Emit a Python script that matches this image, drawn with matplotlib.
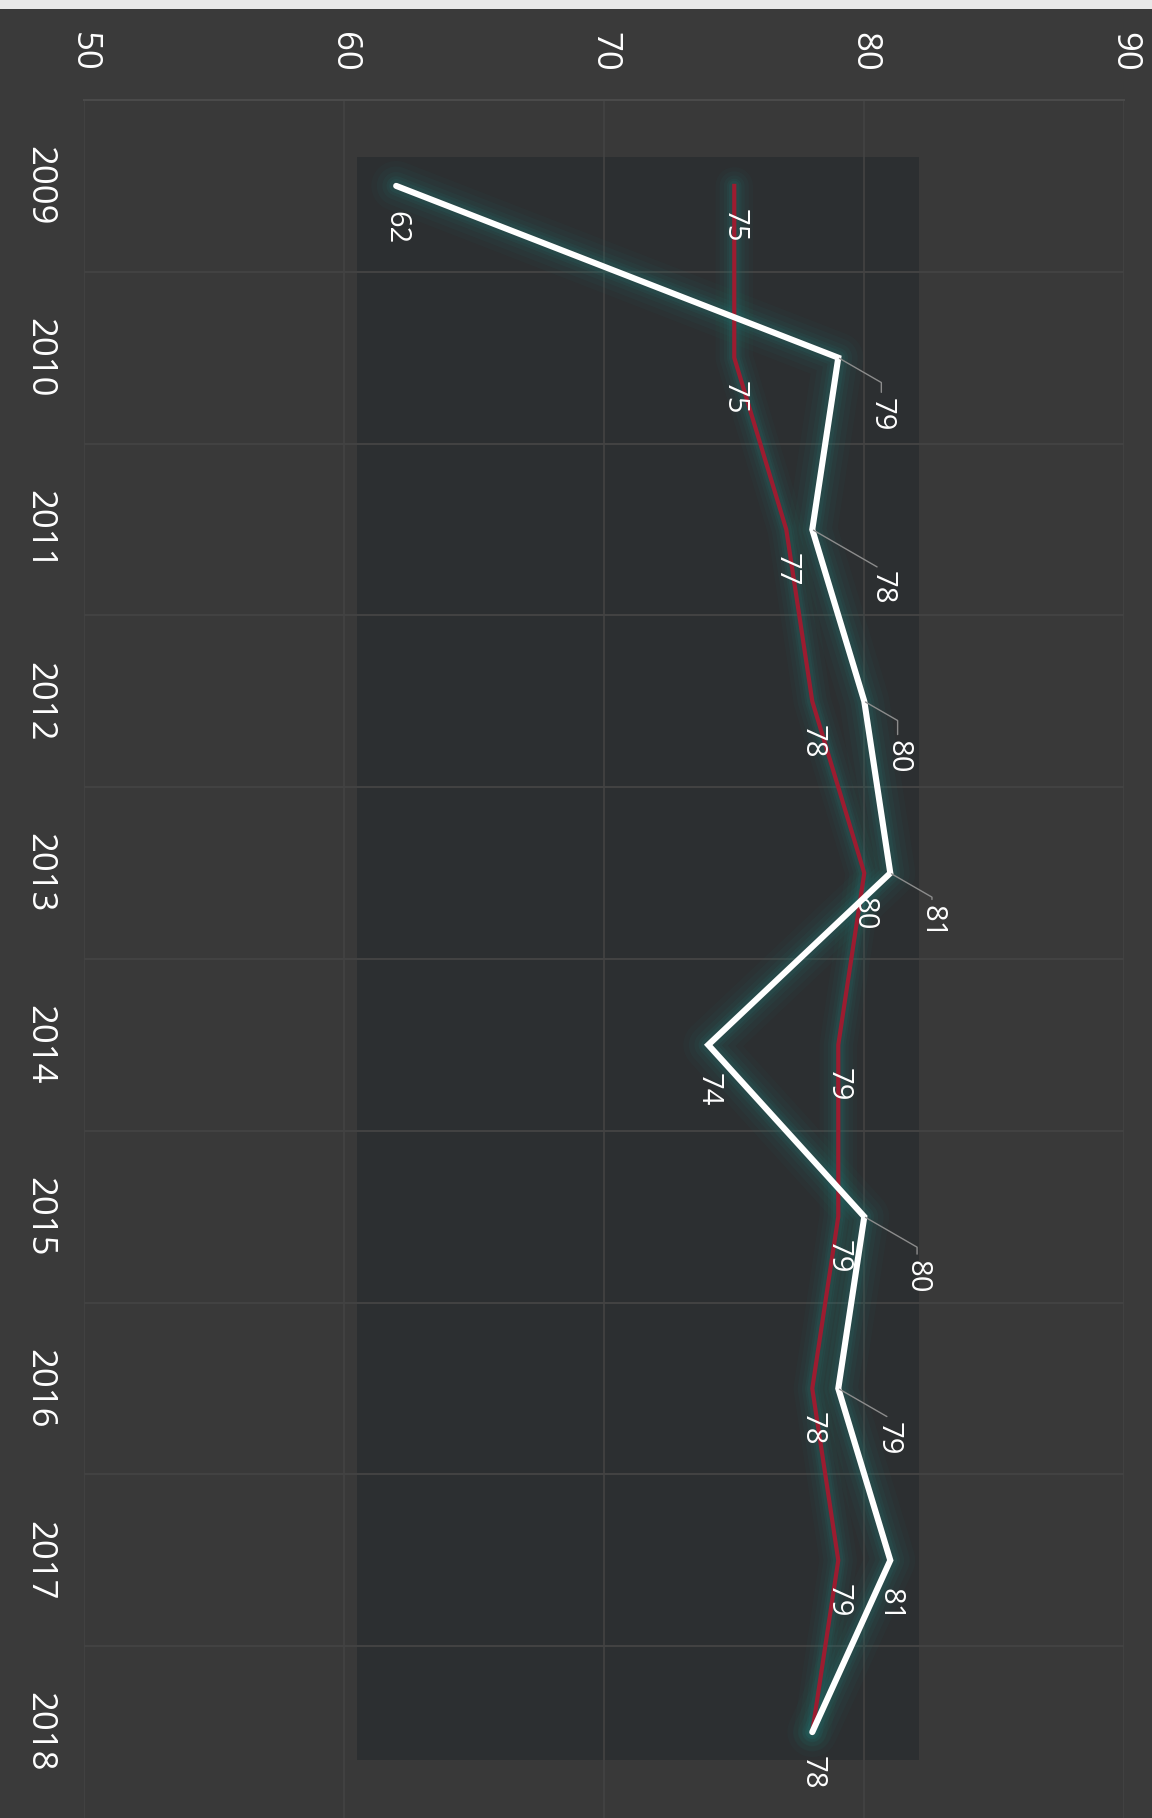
import matplotlib.pyplot as plt
from matplotlib.patches import Rectangle

years = [2009, 2010, 2011, 2012, 2013, 2014, 2015, 2016, 2017, 2018]
white_vals = [62, 79, 78, 80, 81, 74, 80, 79, 81, 78]
red_vals = [75, 75, 77, 78, 80, 79, 79, 78, 79, 78]
value_ticks = [50, 60, 70, 80, 90]

plt.rcParams['font.family'] = ['Open Sans', 'DejaVu Sans']

fig = plt.figure(figsize=(11.52, 18.18), dpi=100)
fig.patch.set_facecolor('#3a3a3a')
# white page edge at the very top of the scan
fig.patches.append(Rectangle((0, 0.995), 1, 0.005, transform=fig.transFigure,
                             facecolor='#e8e8e8', edgecolor='none'))

ax = fig.add_axes([0.073, 0.0, 0.903, 0.945])
ax.set_facecolor('#393939')
ax.set_xlim(50, 90)
ax.set_ylim(2018.5, 2008.5)

# darker inner panel
ax.add_patch(Rectangle((0.2625, 0.034), 0.54, 0.933, transform=ax.transAxes,
                       facecolor='#2c2f31', edgecolor='none', zorder=0.5))

# gridlines: values vertical, year boundaries horizontal (very faint)
ax.set_xticks(value_ticks)
ax.set_yticks(years)
ax.set_yticks([y + 0.5 for y in years[:-1]], minor=True)
ax.grid(axis='x', which='major', color='#434343', lw=1.2, zorder=0.6)
ax.grid(axis='y', which='minor', color='#424242', lw=1.5, zorder=0.6)
ax.tick_params(which='both', length=0)
ax.xaxis.tick_top()
ax.tick_params(axis='x', pad=20, labelsize=25, labelcolor='white', labelrotation=-90)
ax.tick_params(axis='y', pad=20, labelsize=25, labelcolor='white', labelrotation=-90)
for lbl in ax.get_yticklabels():
    lbl.set_va('center')
for s in ax.spines.values():
    s.set_visible(False)
ax.spines['top'].set_visible(True)
ax.spines['top'].set_color('#4a4a4a')
ax.spines['top'].set_linewidth(1.5)

# dark teal glow under the lines
for w, a in [(36, 0.05), (28, 0.07), (20, 0.09), (14, 0.12), (10, 0.15)]:
    ax.plot(white_vals, years, color='#23726e', lw=w, alpha=a,
            solid_capstyle='round', solid_joinstyle='round', zorder=2)
    ax.plot(red_vals, years, color='#23726e', lw=w * 0.75, alpha=a,
            solid_capstyle='round', solid_joinstyle='round', zorder=2)

ax.plot(red_vals, years, color='#9c1c30', lw=3, zorder=3,
        solid_joinstyle='round')
ax.plot(white_vals, years, color='white', lw=4.4, zorder=4,
        solid_capstyle='round', solid_joinstyle='miter')

# red labels sit just below each point
for v, y in zip(red_vals[:-1], years[:-1]):
    ax.annotate(f'{v}', xy=(v, y), xytext=(0, -29), textcoords='offset points',
                rotation=-90, ha='center', va='center', fontsize=21,
                color='white', zorder=5)

# white labels: some with a grey leader line
white_offsets = [(0, -30), (31, -41), (50, -42), (24, -40), (30, -35),
                 (0, -32), (38, -43), (36, -36), (0, -32), (0, -29)]
leader = [False, True, True, True, True, False, True, True, False, False]
for v, y, off, ld in zip(white_vals, years, white_offsets, leader):
    props = None
    if ld:
        props = dict(arrowstyle='-', color='#8c8c8c', lw=1,
                     connectionstyle='angle,angleA=90,angleB=150,rad=0',
                     shrinkA=2, shrinkB=1)
    ax.annotate(f'{v}', xy=(v, y), xytext=off, textcoords='offset points',
                rotation=-90, ha='center', va='center', fontsize=21,
                color='white', zorder=5, arrowprops=props)

fig.savefig('out.png', dpi=100, facecolor=fig.get_facecolor())
